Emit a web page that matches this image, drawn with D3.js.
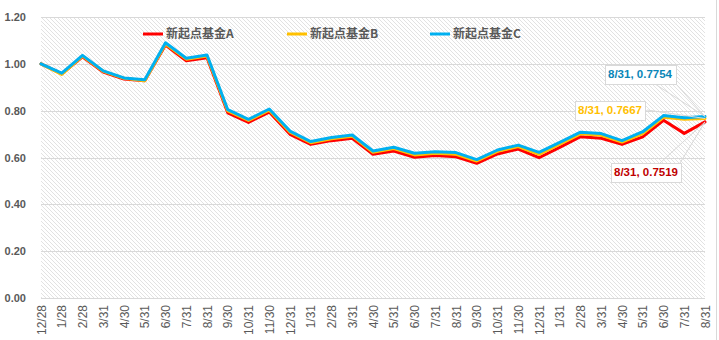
<!DOCTYPE html>
<html><head><meta charset="utf-8">
<script src="https://cdn.jsdelivr.net/npm/d3@7"></script>
<style>html,body{margin:0;padding:0;background:#fff;}svg{display:block;}</style>
</head><body>
<svg id="chart" width="719" height="340"></svg>
<script>
const categories = ["12/28","1/28","2/28","3/31","4/30","5/31","6/30","7/31","8/31",
  "9/30","10/31","11/30","12/31","1/31","2/28","3/31","4/30","5/31","6/30","7/31","8/31",
  "9/30","10/31","11/30","12/31","1/31","2/28","3/31","4/30","5/31","6/30","7/31","8/31"];
const fundA = [1.000,0.957,1.030,0.965,0.935,0.928,1.080,1.013,1.026,0.791,0.750,0.794,0.699,0.656,0.672,0.682,0.614,0.628,0.601,0.608,0.603,0.575,0.615,0.636,0.599,0.643,0.689,0.682,0.656,0.688,0.759,0.703,0.7519];
const fundB = [1.000,0.955,1.033,0.968,0.938,0.928,1.085,1.020,1.033,0.799,0.758,0.802,0.708,0.663,0.680,0.691,0.622,0.638,0.611,0.618,0.614,0.585,0.626,0.647,0.613,0.657,0.701,0.695,0.666,0.702,0.772,0.763,0.7667];
const fundC = [1.000,0.960,1.036,0.970,0.940,0.932,1.090,1.024,1.038,0.804,0.763,0.807,0.713,0.668,0.685,0.696,0.628,0.644,0.618,0.625,0.621,0.591,0.632,0.653,0.622,0.665,0.708,0.702,0.672,0.710,0.779,0.770,0.7754];
const seriesNames = ["新起点基金A","新起点基金B","新起点基金C"];
const yTicks = [0,0.2,0.4,0.6,0.8,1.0,1.2];

const series = [
  {name: seriesNames[0], values: fundA, color: "#FF0000", label: "#C00000"},
  {name: seriesNames[1], values: fundB, color: "#FFC000", label: "#FFC000"},
  {name: seriesNames[2], values: fundC, color: "#00B0F0", label: "#0A86B8"}
];

const svg = d3.select("#chart");
const L = 41, R = 705, T = 17, B = 298;
const x = d3.scalePoint().domain(d3.range(categories.length)).range([L, R]);
const y = d3.scaleLinear().domain([0, 1.2]).range([B, T]);

const defs = svg.append("defs");
const pat = defs.append("pattern").attr("id","hatch").attr("patternUnits","userSpaceOnUse")
  .attr("width",4).attr("height",4);
pat.append("rect").attr("width",4).attr("height",4).attr("fill","#fff");
pat.append("path").attr("d","M-1,-1L5,5M-1,3L1,5M3,-1L5,1").attr("stroke","#e2e2e2").attr("stroke-width",1);

svg.append("rect").attr("x",L).attr("y",T).attr("width",R-L).attr("height",B-T).attr("fill","url(#hatch)");

// right border
svg.append("line").attr("x1",716.5).attr("x2",716.5).attr("y1",0).attr("y2",340).attr("stroke","#d9d9d9");

// gridlines
svg.append("g").selectAll("line").data(yTicks).join("line")
  .attr("x1",L).attr("x2",R).attr("y1",d=>Math.round(y(d))+0.5).attr("y2",d=>Math.round(y(d))+0.5)
  .attr("stroke","#d9d9d9").attr("stroke-width",1);

// y axis labels
const yAxis = d3.axisLeft(y).tickValues(yTicks).tickFormat(d3.format(".2f")).tickSize(0).tickPadding(0);
const gy = svg.append("g").attr("transform","translate(26,0)").call(yAxis);
gy.select(".domain").remove();
gy.selectAll("text").attr("fill","#595959").style("font","bold 11px 'Liberation Sans', Arial, sans-serif");

// x axis labels
const xAxis = d3.axisBottom(x).tickFormat(i=>categories[i]).tickSize(0).tickPadding(0);
const gx = svg.append("g").attr("transform",`translate(0,${B})`).call(xAxis);
gx.select(".domain").remove();
gx.selectAll("text")
  .attr("transform","translate(0,7) rotate(-90)")
  .attr("text-anchor","end").attr("x",0).attr("y",0).attr("dy","0.35em")
  .attr("fill","#595959").style("font","12px 'Liberation Sans', Arial, sans-serif");

// lines
const line = d3.line().x((d,i)=>x(i)).y(d=>y(d));
svg.append("g").selectAll("path").data(series).join("path")
  .attr("d",d=>line(d.values)).attr("fill","none").attr("stroke",d=>d.color)
  .attr("stroke-width",3).attr("stroke-linejoin","round").attr("stroke-linecap","round");

// legend
const legendX = [143, 287, 430];
const lg = svg.append("g").selectAll("g").data(series).join("g")
  .attr("transform",(d,i)=>`translate(${legendX[i]},34)`);
lg.append("line").attr("x1",0).attr("x2",20).attr("stroke",d=>d.color).attr("stroke-width",3);
lg.append("text").attr("x",23).attr("dy","0.36em").text(d=>d.name)
  .attr("fill","#595959").style("font","bold 12px 'Noto Sans CJK SC', sans-serif");

// data labels
const last = categories.length - 1;
const labelPos = [
  {cx: 646, cy: 172, leaders: [[660,163],[680,163]]},
  {cx: 610, cy: 110, leaders: [[647,110]]},
  {cx: 640, cy: 74, leaders: [[655,84],[676,84]]}
];
const lbl = svg.append("g");
series.forEach((s,i)=>{
  const p = labelPos[i];
  const px = x(last), py = y(s.values[last]);
  p.leaders.forEach(l=>{
    lbl.append("line").attr("x1",l[0]).attr("y1",l[1]).attr("x2",px).attr("y2",py)
      .attr("stroke","#d9d9d9").attr("stroke-width",1);
  });
});
series.forEach((s,i)=>{
  const p = labelPos[i];
  const txt = `${categories[last]}, ${s.values[last].toFixed(4)}`;
  const g = lbl.append("g");
  const t = g.append("text").attr("x",p.cx).attr("y",p.cy).attr("dy","0.36em").attr("text-anchor","middle")
    .attr("fill",s.label).style("font","bold 11.5px 'Liberation Sans', Arial, sans-serif").text(txt);
  const bb = t.node().getBBox();
  g.insert("rect","text").attr("x",Math.round(bb.x-3)+0.5).attr("y",Math.round(p.cy-9)+0.5)
    .attr("width",Math.round(bb.width+6)).attr("height",19)
    .attr("fill","#fff").attr("stroke","#d9d9d9");
});
</script>
</body></html>
